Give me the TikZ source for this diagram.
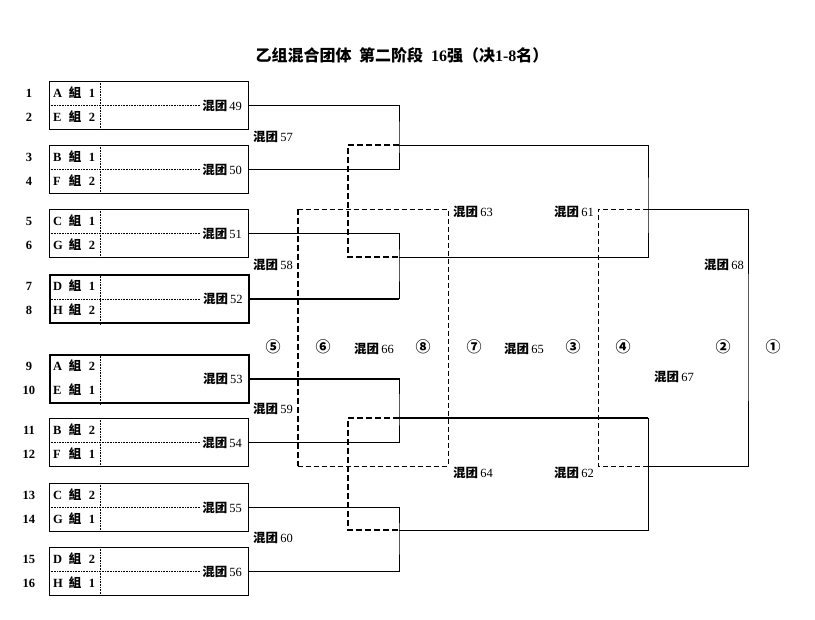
\documentclass[tikz,border=0pt]{standalone}
\usepackage{fontspec}
\setmainfont{Liberation Serif}
\newfontfamily\cjk{Noto Sans CJK SC}
\usetikzlibrary{positioning}

\newcommand{\hteam}[1]{{\cjk\bfseries 混团}\,#1}

\tikzset{
    entry/.style={draw, line width=1.1pt, minimum width=199pt, minimum height=48pt, anchor=north west, inner sep=0pt},
    seed/.style={font=\bfseries\fontsize{12.5}{12.5}\selectfont, inner sep=0pt},
    team/.style={font=\bfseries\fontsize{12.5}{12.5}\selectfont, inner sep=0pt},
    match/.style={font=\fontsize{12.5}{12.5}\selectfont, inner sep=0pt},
    place/.style={font=\cjk\bfseries\fontsize{15}{15}\selectfont, inner sep=0pt},
    win/.style={line width=0.8pt},
    winbold/.style={line width=1.8pt},
    loss/.style={line width=0.8pt, dash pattern=on 5pt off 3pt},
    lossbold/.style={line width=1.8pt, dash pattern=on 6pt off 3pt}
}

\begin{document}
\begin{tikzpicture}[x=1pt, y=-1pt]
    \useasboundingbox (0,0) rectangle (815,620);

    \node[font=\bfseries\fontsize{16}{16}\selectfont] (title) at (402,55)
        {{\cjk 乙组混合团体\ \ 第二阶段}\ \ 16{\cjk 强（决}1-8{\cjk 名）}};

    % Round of 16 boxes
    \foreach \b/\t/\ga/\ra/\gb/\rb in {1/81/A/1/E/2, 2/145/B/1/F/2, 3/209/C/1/G/2, 4/274/D/1/H/2,
                                       5/354/A/2/E/1, 6/418/B/2/F/1, 7/483/C/2/G/1, 8/547/D/2/H/1} {
        \pgfmathtruncatemacro{\sa}{2*\b-1}
        \pgfmathtruncatemacro{\sb}{2*\b}
        \pgfmathtruncatemacro{\w}{48+\b}
        \ifnum\b=4 \tikzset{entry/.append style={line width=1.8pt}}\fi
        \ifnum\b=5 \tikzset{entry/.append style={line width=1.8pt}}\fi
        \node[entry] (b\b) at (49,\t) {};
        \draw[densely dotted, line width=0.6pt] ([xshift=51pt]b\b.north west) -- ([xshift=51pt]b\b.south west);
        \ifnum\b=5\else
            \draw[densely dotted, line width=0.6pt] (b\b.west) -- ++(151,0);
        \fi
        \node[seed] (s\sa) at (29,\t+12) {\sa};
        \node[seed] (s\sb) at (29,\t+36) {\sb};
        \node[team, anchor=west] (l\sa) at (53,\t+12) {\ga};
        \node[team, anchor=west] (l\sb) at (53,\t+36) {\gb};
        \node[team] (k\sa) at (75,\t+12) {\cjk\bfseries 組};
        \node[team] (k\sb) at (75,\t+36) {\cjk\bfseries 組};
        \node[team] (n\sa) at (92,\t+12) {\ra};
        \node[team] (n\sb) at (92,\t+36) {\rb};
        \node[match, anchor=east] (w\w) at ([xshift=-7pt]b\b.east) {\hteam{\w}};
    }

    % Quarter-final joins
    \coordinate (j57) at (399,137);
    \coordinate (j58) at (399,265);
    \coordinate (j59) at (399,409);
    \coordinate (j60) at (399,538);
    \draw[win] (b1.east) -| (j57) |- (b2.east);
    \draw[win] (b3.east) -| (j58) |- (b4.east);
    \draw[winbold] (b4.east) -- (b4.east -| j58);
    \draw[win] (b5.east) -| (j59) |- (b6.east);
    \draw[winbold] (b5.east) -- (b5.east -| j59);
    \draw[win] (b7.east) -| (j60) |- (b8.east);

    % Semi-finals and final
    \coordinate (q57) at (399,145);
    \coordinate (q58) at (399,257);
    \coordinate (q59) at (399,418);
    \coordinate (q60) at (399,530);
    \coordinate (j61) at (648,209);
    \coordinate (j62) at (648,466);
    \coordinate (j68) at (748,337);
    \draw[win] (q57) -| (j61) |- (q58);
    \draw[winbold] (q59) -- (q59 -| j62);
    \draw[win] (q59 -| j62) |- (q60);
    \draw[win] (j61) -| (j68) |- (j62);

    % Places 5-8 and 3-4
    \coordinate (u63) at (298,209);
    \coordinate (u64) at (298,466);
    \coordinate (e63) at (448,209);
    \coordinate (e64) at (448,466);
    \coordinate (e61) at (598,209);
    \coordinate (e62) at (598,466);
    \draw[lossbold] (q57) -- ++(-51,0) |- (q58);
    \draw[lossbold] (q59) -- ++(-51,0) |- (q60);
    \draw[loss] (u63) -- (e63) -- (e64) -- (u64);
    \draw[lossbold] (u63) -- (u64);
    \draw[loss] (j61) -- (e61) -- (e62) -- (j62);

    % Match labels
    \foreach \m/\x/\y in {57/273/137, 58/273/265, 59/273/409, 60/273/538,
                          63/473/212, 64/473/473, 61/574/212, 62/574/473,
                          66/374/349, 65/524/349, 68/724/265, 67/674/377}
        \node[match] (m\m) at (\x,\y) {\hteam{\m}};

    % Places
    \foreach \p/\x in {⑤/273, ⑥/323, ⑧/423, ⑦/474, ③/573, ④/623, ②/723, ①/773}
        \node[place] (p\x) at (\x,347) {\p};
\end{tikzpicture}
\end{document}
